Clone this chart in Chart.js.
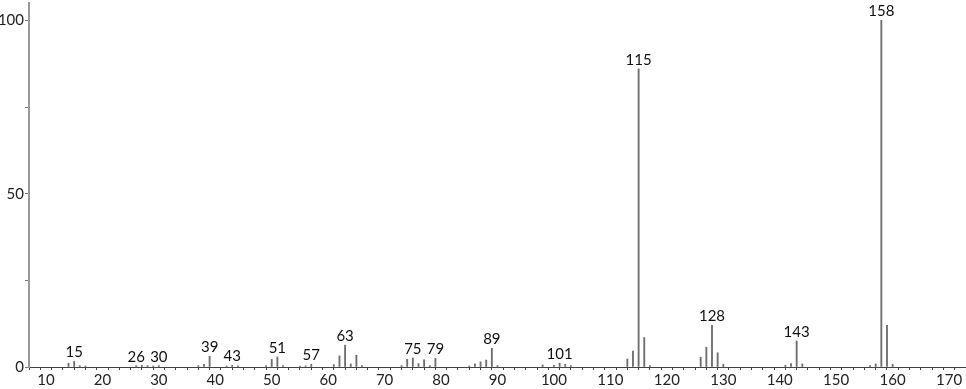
<!DOCTYPE html>
<html>
  <head>
    <meta charset="UTF-8" />
    <title>Mass spectrum</title>
    <script src="https://cdn.jsdelivr.net/npm/chart.js"></script>
    <style>
      body {
        margin: 0;
        background: #fff;
      }
      canvas {
        display: block;
      }
    </style>
  </head>
  <body>
    <canvas id="chart" width="966" height="389"></canvas>

    <script>
      // m/z values and relative intensities
      const mz = [
        14, 15, 16, 17, 26, 27, 28, 29, 30, 37, 38, 39, 42, 43, 44, 49, 50, 51,
        52, 55, 56, 57, 61, 62, 63, 64, 65, 66, 73, 74, 75, 76, 77, 78, 79, 85,
        86, 87, 88, 89, 90, 98, 100, 101, 102, 103, 113, 114, 115, 116, 117,
        126, 127, 128, 129, 130, 141, 142, 143, 144, 156, 157, 158, 159, 160,
      ];
      const intensity = [
        1.1, 1.6, 0.4, 0.3, 0.4, 0.5, 0.4, 0.3, 0.4, 0.4, 0.8, 3.1, 0.3, 0.5,
        0.3, 0.4, 2.2, 2.9, 0.4, 0.3, 0.3, 0.8, 0.7, 3.2, 6.3, 0.9, 3.4, 0.4,
        0.4, 2.2, 2.6, 1.0, 2.1, 0.4, 2.5, 0.3, 0.9, 1.5, 2.0, 5.4, 0.4, 0.6,
        0.5, 1.1, 0.8, 0.4, 2.3, 4.6, 86, 8.5, 0.4, 2.8, 5.7, 12.0, 4.1, 0.8,
        0.5, 1.0, 7.5, 0.9, 0.4, 0.9, 100, 12, 0.8,
      ];
      // peaks that get their m/z written above them
      const labeledPeaks = [15, 26, 30, 39, 43, 51, 57, 63, 75, 79, 89, 101, 115, 128, 143, 158];

      const xMin = 7;
      const xMax = 173;
      const xMinorStep = 2;
      const xLabelStep = 10;
      const yTicks = [0, 25, 50, 75, 100];
      const yLabels = [0, 50, 100];

      const font = "Lato, 'DejaVu Sans', sans-serif";

      const peakLabels = {
        id: "peakLabels",
        afterDatasetsDraw(chart) {
          const ctx = chart.ctx;
          const meta = chart.getDatasetMeta(0);
          ctx.save();
          ctx.font = "15px " + font;
          ctx.fillStyle = "#111";
          ctx.textAlign = "center";
          ctx.textBaseline = "alphabetic";
          meta.data.forEach((bar, i) => {
            if (labeledPeaks.includes(mz[i])) {
              ctx.fillText(String(mz[i]), bar.x, bar.y - 4);
            }
          });
          ctx.restore();
        },
      };

      const xTickValues = [];
      for (let v = xMin + 1; v <= xMax; v += xMinorStep) xTickValues.push(v);

      new Chart(document.getElementById("chart"), {
        type: "bar",
        data: {
          datasets: [
            {
              data: mz.map((m, i) => ({ x: m, y: intensity[i] })),
              backgroundColor: "#6e6e6e",
              barThickness: 1.2,
              borderWidth: 0,
            },
          ],
        },
        options: {
          responsive: false,
          animation: false,
          layout: { padding: { top: 3, right: 0, left: 0, bottom: 0 } },
          plugins: {
            legend: { display: false },
            tooltip: { enabled: false },
          },
          scales: {
            x: {
              type: "linear",
              min: xMin,
              max: xMax,
              offset: false,
              afterBuildTicks: (scale) => {
                scale.ticks = xTickValues.map((v) => ({ value: v }));
              },
              afterFit: (scale) => {
                scale.height = 22;
              },
              grid: {
                drawOnChartArea: false,
                drawTicks: true,
                tickLength: 3,
                tickColor: "#444",
              },
              border: { color: "#444", width: 1 },
              ticks: {
                autoSkip: false,
                maxRotation: 0,
                padding: 1,
                color: "#222",
                font: { family: font, size: 15 },
                callback: (v) => (v % xLabelStep === 0 ? String(v) : ""),
              },
            },
            y: {
              min: 0,
              max: 105,
              afterBuildTicks: (scale) => {
                scale.ticks = yTicks.map((v) => ({ value: v }));
              },
              afterFit: (scale) => {
                scale.width = 29;
                scale.paddingTop = 0;
                scale.paddingBottom = 0;
              },
              grid: {
                drawOnChartArea: false,
                drawTicks: true,
                tickLength: 4,
                tickColor: "#777",
              },
              border: { color: "#999", width: 2 },
              ticks: {
                padding: 1,
                color: "#222",
                font: { family: font, size: 15 },
                callback: (v) => (yLabels.includes(v) ? String(v) : ""),
              },
            },
          },
        },
        plugins: [peakLabels],
      });
    </script>
  </body>
</html>
